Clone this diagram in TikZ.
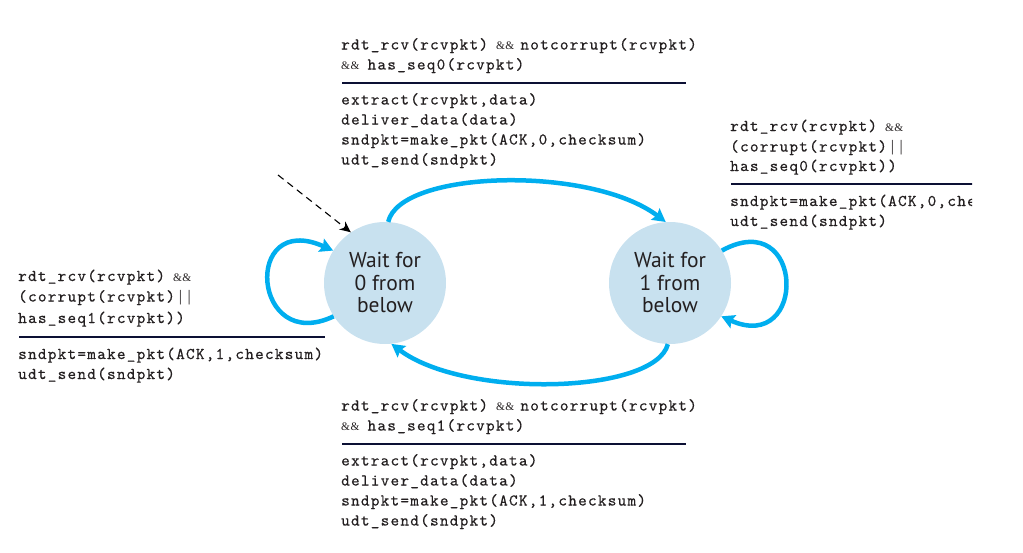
\documentclass[tikz,border=0pt]{standalone}
\usepackage{fontspec}
\setsansfont{PT Sans}
\setmonofont{lmmono10-regular.otf}[LetterSpace=7.7,FakeBold=0.5]
\newfontfamily\ampfont{Liberation Serif}
\usetikzlibrary{arrows.meta}
\definecolor{stateblue}{RGB}{200,225,239}
\definecolor{arrowblue}{RGB}{0,174,239}
\definecolor{rulenavy}{RGB}{12,16,52}
\definecolor{textgray}{RGB}{35,31,32}
\newcommand{\andand}{{\ampfont\fontsize{11.5}{11.5}\selectfont\&\kern0.5pt\&}}
\newcommand{\oror}{{\ampfont\fontsize{16}{16}\selectfont|\kern5.5pt|}}
\begin{document}
\begin{tikzpicture}[x=1pt,y=-1pt,
 state/.style={circle,fill=stateblue,minimum size=122pt,inner sep=0pt,
   font=\sffamily\fontsize{21.5}{22.5}\selectfont,text=textgray,align=center},
 code/.style={anchor=base west,inner sep=0pt,
   font=\ttfamily\fontsize{16.4}{20}\selectfont,text=textgray},
 guardrule/.style={draw=rulenavy,line width=2pt},
 trans/.style={draw=arrowblue,line width=4.5pt,
   -{Stealth[length=13pt,width=14pt,inset=2pt]}},
 initarrow/.style={draw=black,line width=1.1pt,dash pattern=on 7pt off 5pt,
   -{Stealth[length=11pt,width=10pt]}}]

\useasboundingbox (0,0) rectangle (1023,552);

% states
\node[state] (c0) at (385,283) {Wait for\\0 from\\below};
\node[state] (c1) at (670,283) {Wait for\\1 from\\below};

% top block (0 -> 1)
\node[code] (tg1) at (341,49.5) {rdt\_rcv(rcvpkt)\hspace{8pt}\andand\hspace{6pt}notcorrupt(rcvpkt)};
\node[code] (tg2) at (341,69.5) {\andand\hspace{8pt}has\_seq0(rcvpkt)};
\coordinate (tr1) at (342,83);
\coordinate (tr2) at (686,83);
\draw[guardrule] (tr1) -- (tr2);
\node[code] (ta1) at (341,104.5) {extract(rcvpkt,data)};
\node[code] (ta2) at (341,124.5) {deliver\_data(data)};
\node[code] (ta3) at (341,144.5) {sndpkt=make\_pkt(ACK,0,checksum)};
\node[code] (ta4) at (341,164.5) {udt\_send(sndpkt)};

% bottom block (1 -> 0)
\node[code] (bg1) at (341,410.5) {rdt\_rcv(rcvpkt)\hspace{8pt}\andand\hspace{6pt}notcorrupt(rcvpkt)};
\node[code] (bg2) at (341,430.5) {\andand\hspace{8pt}has\_seq1(rcvpkt)};
\coordinate (br1) at (342,443.5);
\coordinate (br2) at (686,443.5);
\draw[guardrule] (br1) -- (br2);
\node[code] (ba1) at (341,465.5) {extract(rcvpkt,data)};
\node[code] (ba2) at (341,485.5) {deliver\_data(data)};
\node[code] (ba3) at (341,505.5) {sndpkt=make\_pkt(ACK,1,checksum)};
\node[code] (ba4) at (341,525.5) {udt\_send(sndpkt)};

% left block (self loop on 0)
\node[code] (lg1) at (18,281) {rdt\_rcv(rcvpkt)\hspace{8pt}\andand};
\node[code] (lg2) at (18,301.5) {(corrupt(rcvpkt)\hspace{4pt}\oror};
\node[code] (lg3) at (18,323) {has\_seq1(rcvpkt))};
\coordinate (lr1) at (19,336.5);
\coordinate (lr2) at (325,336.5);
\draw[guardrule] (lr1) -- (lr2);
\node[code] (la1) at (18,359) {sndpkt=make\_pkt(ACK,1,checksum)};
\node[code] (la2) at (18,379) {udt\_send(sndpkt)};

% right block (self loop on 1), clipped at the right edge as in the original
\begin{scope}
\clip (700,100) rectangle (972,240);
\node[code] (rg1) at (730,131) {rdt\_rcv(rcvpkt)\hspace{8pt}\andand};
\node[code] (rg2) at (730,151.5) {(corrupt(rcvpkt)\hspace{4pt}\oror};
\node[code] (rg3) at (730,171) {has\_seq0(rcvpkt))};
\coordinate (rr1) at (731,184);
\coordinate (rr2) at (980,184);
\draw[guardrule] (rr1) -- (rr2);
\node[code] (ra1) at (730,206) {sndpkt=make\_pkt(ACK,0,checksum)};
\node[code] (ra2) at (730,226) {udt\_send(sndpkt)};
\end{scope}

% transitions
\draw[trans] (c0.87) .. controls (400,170) and (590,165) .. (c1.94);
\draw[trans] (c1.-92) .. controls (655,394) and (465,399) .. (c0.-84);
\draw[trans] (c0.213) .. controls (252,355) and (242,210) .. (c0.148);
\draw[trans] (c1.32) .. controls (805,205) and (808,355) .. (c1.-33);

% initial state arrow
\coordinate (init) at (278,175);
\draw[initarrow] (init) -- (c0.124);
\end{tikzpicture}
\end{document}
